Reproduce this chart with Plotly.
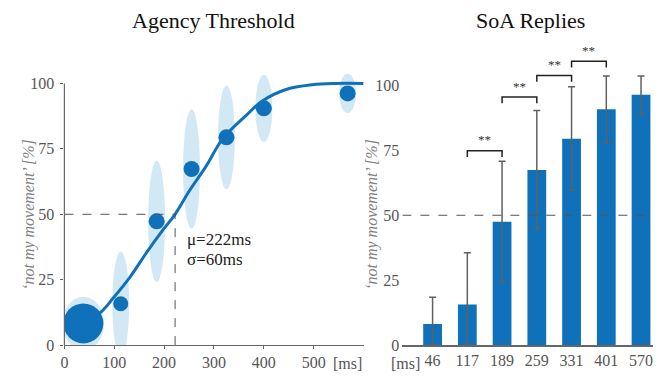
import plotly.graph_objects as go

# ---------------- data ----------------
delay_labels = ["46", "117", "189", "259", "331", "401", "570"]
delay_x = [38, 113, 185, 255, 325, 400, 568]          # mean delay positions (left plot)
replies_mean = [8.3, 15.8, 47.3, 67.3, 79.4, 90.5, 96.2]  # % 'not my movement'
replies_sd = [10.2, 20.0, 23.2, 22.8, 19.8, 12.9, 7.5]
bar_mean = [8.1, 15.6, 47.5, 67.4, 79.5, 90.8, 96.4]
err_plus = [10.3, 20.0, 23.3, 22.9, 20.0, 12.8, 7.2]
err_minus = [8.1, 15.6, 23.1, 22.7, 19.7, 13.0, 7.9]
dot_sizes = [40, 15, 16, 16, 16, 16, 16]

curve_x = [40, 72, 98, 132, 165, 198, 222, 251, 283, 318, 364, 397, 443, 497, 543, 600]
curve_y = [8.8, 12.4, 18.0, 26.1, 35.4, 44.1, 50.0, 59.1, 68.0, 79.0, 87.7, 93.3, 97.6, 99.5, 100, 100]

mu_ms = 222
sigma_ms = 60
threshold = 50

sig_pairs = [(1, 2), (2, 3), (3, 4), (4, 5)]
sig_levels = [74.8, 95.5, 103.8, 109.3]
sig_labels = ["**", "**", "**", "**"]

# ---------------- style ----------------
W, H = 670, 379
OFF = 8   # page body margin offset (px)
BLUE = "#0F71B9"
LIGHT = "#D3E8F5"
AX = "#666666"
TICK = "#555555"
GRAYT = "#808080"
FONT = "'Liberation Serif', 'Times New Roman', Times, serif"

# pixel geometry (window coordinates)
L_x0, L_x1 = 60.7, 361.7
R_x0, R_x1 = 400.7, 652.7
Y0_PX = 353.3
L_PPU = 2.68   # px per % (left)
R_PPU = 2.66   # px per % (right)
L_YMAX = 106
R_YMAX = 118
L_XMAX = 600
R_XR = [-0.87, 6.34]

def px_(X):
    return (X - OFF) / W

def py(Y):
    return 1 - (Y - OFF) / H

fig = go.Figure()

# ---------- left: Agency Threshold ----------
fig.add_trace(go.Scatter(
    x=curve_x, y=curve_y, mode="lines",
    line=dict(color=BLUE, width=3, shape="spline"),
    xaxis="x", yaxis="y", hoverinfo="skip", showlegend=False))
fig.add_trace(go.Scatter(
    x=delay_x, y=replies_mean, mode="markers",
    marker=dict(color=BLUE, size=dot_sizes, opacity=1, line=dict(width=0)),
    xaxis="x", yaxis="y", showlegend=False))

px_per_ms = (L_x1 - L_x0) / L_XMAX
shapes = []
for i, (x, m, s) in enumerate(zip(delay_x, replies_mean, replies_sd)):
    hw_px = 21 if i == 0 else 8.5
    hw = hw_px / px_per_ms
    shapes.append(dict(type="circle", xref="x", yref="y", layer="below",
                       x0=x - hw, x1=x + hw, y0=m - s, y1=m + s,
                       fillcolor=LIGHT, line=dict(width=0)))
# threshold dashed lines
shapes.append(dict(type="line", xref="x", yref="y", x0=0, x1=mu_ms, y0=threshold, y1=threshold,
                   line=dict(color="#555555", width=1, dash="dash")))
shapes.append(dict(type="line", xref="x", yref="y", x0=mu_ms, x1=mu_ms, y0=0, y1=threshold,
                   line=dict(color="#555555", width=1, dash="dash")))
# left y-axis line (0..100 only)
shapes.append(dict(type="line", xref="paper", yref="y", x0=px_(L_x0), x1=px_(L_x0), y0=0, y1=100,
                   line=dict(color=AX, width=1.2)))

# ---------- right: SoA Replies ----------
cats = list(range(len(delay_labels)))
fig.add_trace(go.Bar(
    x=cats, y=bar_mean, width=0.54,
    marker=dict(color=BLUE, line=dict(width=0)),
    error_y=dict(type="data", symmetric=False, array=err_plus, arrayminus=err_minus,
                 color="#606060", thickness=1.5, width=3.5),
    xaxis="x2", yaxis="y2", showlegend=False))
shapes.append(dict(type="line", xref="x2", yref="y2", x0=R_XR[0], x1=R_XR[1], y0=threshold, y1=threshold,
                   line=dict(color="#555555", width=1.2, dash="dash")))

annotations = []
for (a, b), lev, lab in zip(sig_pairs, sig_levels, sig_labels):
    shapes.append(dict(type="path", xref="x2", yref="y2",
                       path=f"M {a},{lev-2.4} L {a},{lev} L {b},{lev} L {b},{lev-2.4}",
                       line=dict(color="#222222", width=1.5)))
    annotations.append(dict(x=(a + b) / 2, y=lev + 0.6, xref="x2", yref="y2", text=lab,
                            showarrow=False, yanchor="bottom",
                            font=dict(family=FONT, size=13, color="#333333")))

# titles
annotations.append(dict(x=px_(210.5), y=py(21), xref="paper", yref="paper", text="Agency Threshold",
                        showarrow=False, xanchor="center", yanchor="middle",
                        font=dict(family=FONT, size=22, color="#111111")))
annotations.append(dict(x=px_(530), y=py(21), xref="paper", yref="paper", text="SoA Replies",
                        showarrow=False, xanchor="center", yanchor="middle",
                        font=dict(family=FONT, size=22, color="#111111")))
# y titles
for xc in (25, 370):
    annotations.append(dict(x=px_(xc), y=py(219), xref="paper", yref="paper",
                            text="<i>\u2018not my movement\u2019 [%]</i>", textangle=-90,
                            showarrow=False, xanchor="center", yanchor="middle",
                            font=dict(family=FONT, size=16, color=GRAYT)))
# mu / sigma
annotations.append(dict(x=px_(182), y=py(245), xref="paper", yref="paper",
                        text=f"\u03bc={mu_ms}ms", showarrow=False, xanchor="left", yanchor="middle",
                        font=dict(family=FONT, size=17, color="#222222")))
annotations.append(dict(x=px_(182), y=py(266), xref="paper", yref="paper",
                        text=f"\u03c3={sigma_ms}ms", showarrow=False, xanchor="left", yanchor="middle",
                        font=dict(family=FONT, size=17, color="#222222")))
# [ms] unit labels
annotations.append(dict(x=px_(329), y=py(372), xref="paper", yref="paper", text="[ms]",
                        showarrow=False, xanchor="left", yanchor="middle",
                        font=dict(family=FONT, size=16, color=TICK)))
annotations.append(dict(x=px_(420), y=py(372), xref="paper", yref="paper", text="[ms]",
                        showarrow=False, xanchor="right", yanchor="middle",
                        font=dict(family=FONT, size=16, color=TICK)))

tickfont = dict(family=FONT, size=16, color=TICK)
fig.update_layout(
    width=W, height=H,
    margin=dict(l=0, r=0, t=0, b=0),
    paper_bgcolor="white", plot_bgcolor="white",
    showlegend=False,
    shapes=shapes, annotations=annotations,
    xaxis=dict(domain=[px_(L_x0), px_(L_x1)], range=[0, L_XMAX],
               tickvals=[0, 100, 200, 300, 400, 500], ticks="outside", ticklen=3,
               tickcolor=AX, showline=True, linecolor=AX, linewidth=1.2,
               showgrid=False, zeroline=False, tickfont=tickfont),
    yaxis=dict(domain=[py(Y0_PX), py(Y0_PX - L_YMAX * L_PPU)], range=[0, L_YMAX],
               tickvals=[0, 25, 50, 75, 100], ticks="outside", ticklen=3, tickcolor=AX,
               ticklabelstandoff=3,
               showline=False, showgrid=False, zeroline=False, tickfont=tickfont),
    xaxis2=dict(domain=[px_(R_x0), px_(R_x1)], range=R_XR, anchor="y2",
                tickvals=cats, ticktext=delay_labels, ticks="",
                showline=True, linecolor=AX, linewidth=1.5,
                showgrid=False, zeroline=False, tickfont=tickfont),
    yaxis2=dict(domain=[py(Y0_PX), py(Y0_PX - R_YMAX * R_PPU)], range=[0, R_YMAX], anchor="x2",
                tickvals=[0, 25, 50, 75, 100], ticks="", showline=False, ticklabelstandoff=2,
                showgrid=False, zeroline=False, tickfont=tickfont),
)

fig.write_html("out.html")
